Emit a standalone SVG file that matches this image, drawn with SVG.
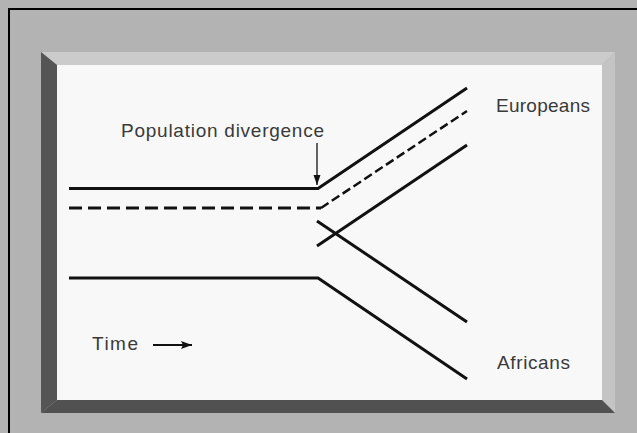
<svg xmlns="http://www.w3.org/2000/svg" width="637" height="433" viewBox="0 0 637 433">
  <defs>
    <style>
      .lbl { font-family: "Liberation Sans", Arial, sans-serif; font-size: 19px; fill: #3a3a3a; }
      .ln { fill: none; stroke: #111; stroke-width: 3; stroke-linecap: butt; stroke-linejoin: miter; }
      .dash { fill: none; stroke: #111; stroke-width: 3; stroke-dasharray: 13 6; }
      .dash2 { fill: none; stroke: #111; stroke-width: 2.5; stroke-dasharray: 9 4; }
    </style>
    <marker id="ah" viewBox="0 0 10 10" refX="10" refY="5" markerWidth="10" markerHeight="10" markerUnits="userSpaceOnUse" orient="auto">
      <path d="M0,1.5 L10,5 L0,8.5 Z" fill="#111"/>
    </marker>
    <marker id="ah2" viewBox="0 0 11 10" refX="11" refY="5" markerWidth="11" markerHeight="10" markerUnits="userSpaceOnUse" orient="auto">
      <path d="M0,1 L11,5 L0,9 L2,5 Z" fill="#111"/>
    </marker>
  </defs>

  <g id="frame">
    <rect x="0" y="0" width="637" height="433" fill="#b3b3b3"/>
    <rect x="8" y="8" width="629" height="2" fill="#000"/>
    <rect x="8" y="8" width="2" height="425" fill="#000"/>
  </g>

  <g id="panel">
    <polygon points="41,52 615,52 602,65 57,65" fill="#cbcbcb"/>
    <polygon points="615,52 615,413 602,400 602,65" fill="#c4c4c4"/>
    <polygon points="41,52 57,65 57,400 41,413" fill="#555"/>
    <polygon points="41,413 57,400 602,400 615,413" fill="#515151"/>
    <rect x="57" y="65" width="545" height="335" fill="#f8f8f8"/>
  </g>

  <g id="connectors">
    <polyline class="ln" points="69,188.5 318,188.5 467,88"/>
    <line class="dash" x1="69" y1="208" x2="321" y2="208"/>
    <line class="dash2" x1="321" y1="208" x2="467" y2="111"/>
    <line class="ln" x1="317" y1="246" x2="467" y2="145"/>
    <line class="ln" x1="317" y1="221" x2="467" y2="322"/>
    <polyline class="ln" points="69,278 318,278 467,379"/>
    <line x1="317" y1="143" x2="317" y2="185" stroke="#111" stroke-width="1.3" marker-end="url(#ah)"/>
    <line x1="153" y1="345" x2="192" y2="345" stroke="#111" stroke-width="1.8" marker-end="url(#ah2)"/>
  </g>

  <g id="label-divergence">
    <text class="lbl" x="121" y="137" textLength="203" lengthAdjust="spacing">Population divergence</text>
  </g>
  <g id="label-europeans">
    <text class="lbl" x="496" y="112" textLength="94" lengthAdjust="spacing">Europeans</text>
  </g>
  <g id="label-africans">
    <text class="lbl" x="497" y="369" textLength="73" lengthAdjust="spacing">Africans</text>
  </g>
  <g id="label-time">
    <text class="lbl" x="92" y="350" textLength="46" lengthAdjust="spacing">Time</text>
  </g>
</svg>
